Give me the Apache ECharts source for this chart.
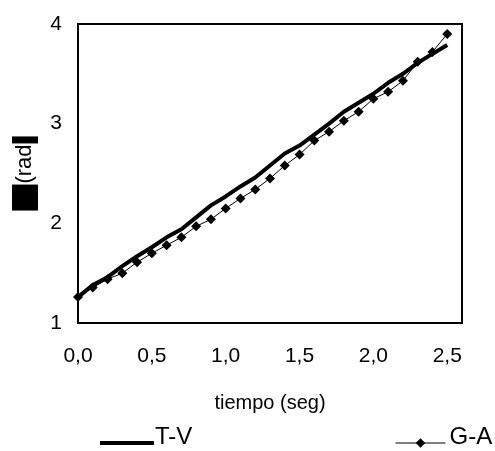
<!DOCTYPE html>
<html>
<head>
<meta charset="utf-8">
<script src="https://cdn.jsdelivr.net/npm/echarts@6/dist/echarts.min.js"></script>
<style>html,body{margin:0;padding:0;background:#fff}#c{width:495px;height:451px}</style>
</head>
<body>
<div id="c"></div>
<script>
var times = [0.0,0.1,0.2,0.3,0.4,0.5,0.6,0.7,0.8,0.9,1.0,1.1,1.2,1.3,1.4,1.5,1.6,1.7,1.8,1.9,2.0,2.1,2.2,2.3,2.4,2.5];
var tvValues = [1.26,1.38,1.46,1.57,1.67,1.76,1.86,1.94,2.06,2.18,2.27,2.37,2.46,2.58,2.70,2.78,2.89,3.00,3.12,3.21,3.30,3.41,3.50,3.61,3.70,3.79];
var gaValues = [1.26,1.355,1.44,1.50,1.61,1.70,1.78,1.86,1.97,2.04,2.15,2.25,2.34,2.45,2.58,2.69,2.83,2.92,3.03,3.12,3.25,3.32,3.43,3.62,3.72,3.90];
var seriesNames = ['T-V','G-A'];
var xTicks = {min:0, max:2.6, interval:0.5};
var yTicks = {min:1, max:4, interval:1};

function pairs(xs, ys){ return xs.map(function(x,i){ return [x, ys[i]]; }); }
var font = '"Liberation Sans", Arial, sans-serif';
var legendRich = {n:{color:'#000',fontFamily:font,fontSize:24,padding:[0,0,12,0]}};
var chart = echarts.init(document.getElementById('c'));
chart.setOption({
  animation:false,
  backgroundColor:'#fff',
  grid:{left:78,right:33,top:24,bottom:128,show:true,borderColor:'#000',borderWidth:2,backgroundColor:'transparent'},
  xAxis:{type:'value',min:xTicks.min,max:xTicks.max,interval:xTicks.interval,
    axisLine:{show:false},axisTick:{show:false},splitLine:{show:false},
    axisLabel:{showMaxLabel:false,margin:23,color:'#000',fontFamily:font,fontSize:21,
      formatter:function(v){return v.toFixed(1).replace('.',',');}},
    name:'tiempo (seg)',nameLocation:'middle',nameGap:70,
    nameTextStyle:{color:'#000',fontFamily:font,fontSize:20}},
  yAxis:{type:'value',min:yTicks.min,max:yTicks.max,interval:yTicks.interval,
    axisLine:{show:false},axisTick:{show:false},splitLine:{show:false},
    axisLabel:{margin:16,color:'#000',fontFamily:font,fontSize:21},
    name:'{b| }{t|(rad}{c| }',nameLocation:'middle',nameGap:40,nameRotate:90,
    nameTextStyle:{color:'#000',fontFamily:font,fontSize:22,
      rich:{b:{width:26,height:26,backgroundColor:'#000'},
            t:{color:'#000',fontFamily:font,fontSize:22,padding:[0,1,0,1]},
            c:{width:7,height:26,backgroundColor:'#000'}}}},
  legend:[
    {data:[seriesNames[0]],left:98,top:425,itemWidth:54,itemHeight:12,itemGap:0,padding:0,
      itemStyle:{opacity:0},lineStyle:{width:4,color:'#000'},
      formatter:'{n|{name}}',
      textStyle:{color:'#000',fontFamily:font,fontSize:24,padding:[0,0,0,-4],rich:legendRich}},
    {data:[seriesNames[1]],left:395,top:425,itemWidth:50,itemHeight:12,itemGap:0,padding:0,
      lineStyle:{width:1,color:'#000'},
      formatter:'{n|{name}}',
      textStyle:{color:'#000',fontFamily:font,fontSize:24,padding:[0,0,0,-1],rich:legendRich}}
  ],
  series:[
    {name:seriesNames[0],type:'line',data:pairs(times,tvValues),symbol:'none',
      lineStyle:{color:'#000',width:4},itemStyle:{color:'#000'},z:3},
    {name:seriesNames[1],type:'line',data:pairs(times,gaValues),symbol:'diamond',symbolSize:10,
      legendIcon:'path://M5,0 L9,4 L5,8 L1,4 Z',
      lineStyle:{color:'#000',width:1},itemStyle:{color:'#000'},z:4}
  ]
});
</script>
</body>
</html>
